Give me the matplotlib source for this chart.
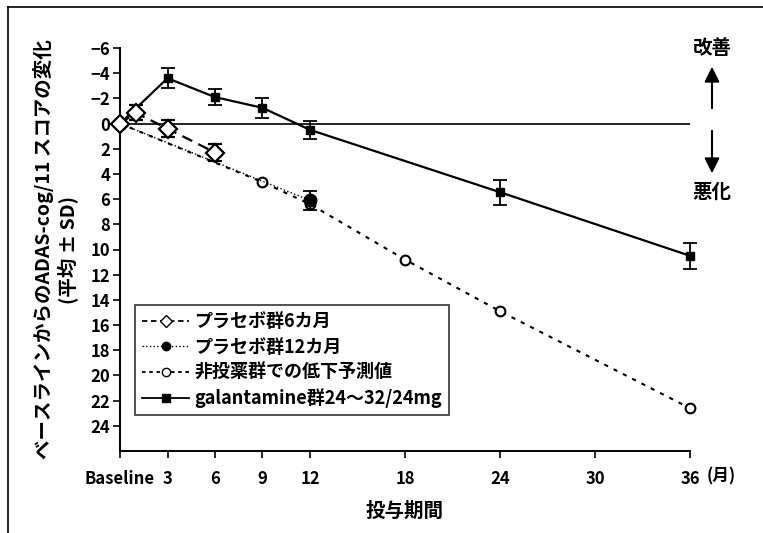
import matplotlib
matplotlib.use("Agg")
import matplotlib.pyplot as plt
from matplotlib.lines import Line2D

plt.rcParams["font.family"] = ["Noto Sans CJK JP", "DejaVu Sans"]
plt.rcParams["font.weight"] = "bold"
plt.rcParams["axes.labelweight"] = "bold"

# galantamine 24-32/24mg
months_gal = [0, 3, 6, 9, 12, 24, 36]
gal = [0, -3.6, -2.1, -1.25, 0.5, 5.45, 10.5]
gal_sd = [0, 0.8, 0.65, 0.8, 0.7, 1.0, 1.05]

# placebo 6 months
months_p6 = [0, 1, 3, 6]
p6 = [0, -0.85, 0.4, 2.3]
p6_sd = [0, 0.6, 0.7, 0.7]

# placebo 12 months
months_p12 = [0, 12]
p12 = [0, 6.1]
p12_sd = [0, 0.75]

# predicted decline, untreated
months_pred = [0, 9, 12, 18, 24, 36]
pred = [0, 4.65, 6.4, 10.8, 14.9, 22.6]

x_ticks = [0, 3, 6, 9, 12, 18, 24, 30, 36]
x_ticklabels = ["Baseline", "3", "6", "9", "12", "18", "24", "30", "36"]
y_ticks = list(range(-6, 25, 2))

labels = ["プラセボ群6カ月", "プラセボ群12カ月", "非投薬群での低下予測値",
          "galantamine群24～32/24mg"]

W, H = 763, 533
fig = plt.figure(figsize=(W / 100, H / 100), dpi=100)
ax = fig.add_axes([120 / W, 1 - 451 / H, 570 / W, 403 / H])

ax.axhline(0, color="black", lw=1.2, zorder=1)

# predicted
ax.plot(months_pred, pred, color="black", lw=1.5, dashes=(2, 3),
        marker="o", mfc="white", mec="black", ms=7, mew=1.5, zorder=3, clip_on=False)
# placebo 12
ax.errorbar(months_p12, p12, yerr=p12_sd, color="black", lw=1.0, ls=":",
            marker="o", mfc="black", mec="black", ms=9, capsize=5, elinewidth=1.3,
            capthick=1.3, zorder=4, clip_on=False)
# galantamine
ax.errorbar(months_gal, gal, yerr=gal_sd, color="black", lw=1.6, ls="-",
            marker="s", mfc="black", mec="black", ms=6, capsize=5, elinewidth=1.3,
            capthick=1.3, zorder=5, clip_on=False)
# placebo 6
ax.errorbar(months_p6, p6, yerr=p6_sd, color="black", lw=1.6, dashes=(5, 3),
            marker="D", mfc="white", mec="black", ms=9, mew=1.6, capsize=5,
            elinewidth=1.3, capthick=1.3, zorder=6, clip_on=False)

ax.set_xlim(0, 36)
ax.set_ylim(26, -6)
ax.spines["top"].set_visible(False)
ax.spines["right"].set_visible(False)
ax.spines["left"].set_bounds(26, -6)
ax.spines["left"].set_linewidth(1.4)
ax.spines["bottom"].set_linewidth(1.4)

ax.set_xticks(x_ticks)
ax.set_xticklabels(x_ticklabels)
ax.set_yticks(y_ticks)
ax.tick_params(axis="x", length=5, width=1.2, pad=9, labelsize=12)
ax.tick_params(axis="y", length=5, width=1.2, pad=2, labelsize=12)

ax.set_ylabel("ベースラインからのADAS-cog/11 スコアの変化\n(平均 ± SD)",
              fontsize=14, linespacing=1.25, labelpad=8)
ax.set_xlabel("投与期間", fontsize=14, labelpad=10)

ax.annotate("(月)", xy=(36, 26), xytext=(12, -12), textcoords="offset points",
            fontsize=12, ha="left", va="top", annotation_clip=False)

# legend
handles = [
    Line2D([0], [0], color="black", lw=1.3, dashes=(3, 2), marker="D",
           mfc="white", mec="black", ms=6),
    Line2D([0], [0], color="black", lw=1.0, ls=":", marker="o",
           mfc="black", mec="black", ms=6),
    Line2D([0], [0], color="black", lw=1.3, dashes=(2, 2), marker="o",
           mfc="white", mec="black", ms=6),
    Line2D([0], [0], color="black", lw=1.3, ls="-", marker="s",
           mfc="black", mec="black", ms=6),
]
leg = ax.legend(handles, labels, loc="upper left", bbox_to_anchor=(0.026, 0.362),
                borderaxespad=0, fontsize=13, handlelength=2.6, handletextpad=0.3,
                labelspacing=0.35, frameon=True, fancybox=False, edgecolor="black")
leg.get_frame().set_linewidth(1.2)

# improvement / worsening annotations
fig.text(712 / W, 1 - 48 / H, "改善", fontsize=14, ha="center", va="center")
fig.text(712 / W, 1 - 192 / H, "悪化", fontsize=14, ha="center", va="center")
arrow_style = dict(arrowstyle="-|>,head_width=0.45,head_length=0.9", color="black", lw=1.5)
fig.add_artist(plt.Annotation("", xy=(712 / W, 1 - 64 / H), xytext=(712 / W, 1 - 111 / H),
                              xycoords="figure fraction", textcoords="figure fraction",
                              arrowprops=arrow_style))
fig.add_artist(plt.Annotation("", xy=(712 / W, 1 - 176 / H), xytext=(712 / W, 1 - 128 / H),
                              xycoords="figure fraction", textcoords="figure fraction",
                              arrowprops=arrow_style))

# outer frame (left and top edges visible in the scan)
fig.add_artist(Line2D([8 / W, 8 / W], [0, 1 - 7 / H], transform=fig.transFigure,
                      color="black", lw=1.2))
fig.add_artist(Line2D([8 / W, 1], [1 - 7 / H, 1 - 7 / H], transform=fig.transFigure,
                      color="black", lw=1.2))

fig.savefig("out.png", dpi=100)
